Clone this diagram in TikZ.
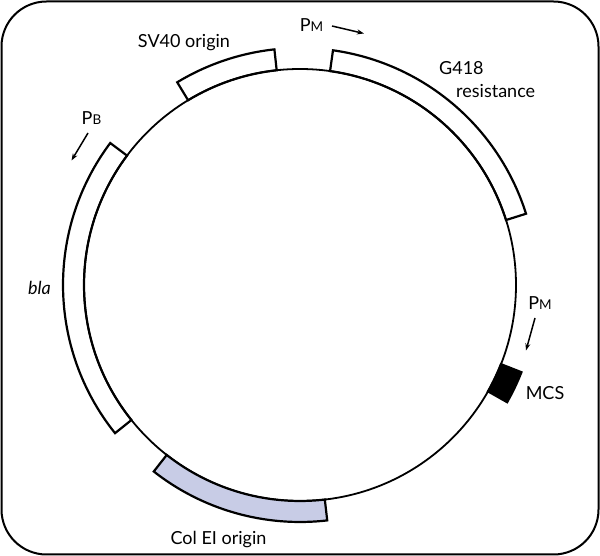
\documentclass[tikz,border=0pt]{standalone}
\usepackage{fontspec}
\setmainfont{Lato}
\usetikzlibrary{arrows.meta}
\definecolor{lav}{RGB}{200,204,230}
\newcommand{\promlbl}[1]{P{\fontsize{13.5}{14}\selectfont #1}}
\begin{document}
\begin{tikzpicture}[x=1pt,y=1pt,
  frame/.style={line width=2pt,rounded corners=45pt},
  plasmid/.style={line width=1.8pt},
  feat/.style={line width=2.2pt,line join=miter},
  lbl/.style={font=\fontsize{18}{21}\selectfont,inner sep=0pt,anchor=base},
  parr/.style={line width=1.5pt,-{Stealth[length=7pt,width=5pt]}}]
\useasboundingbox (0,0) rectangle (600,556);
\draw[frame] (1.5,1.5) rectangle (598.5,554.5);
\begin{scope}[shift={(300,271)}]
  \draw[plasmid] (0,0) circle (216);
  % SV40 origin
  \draw[feat] (96.2:216) arc (96.2:121.2:216) -- (121.2:237) arc (121.2:96.2:237) -- cycle;
  % G418 resistance
  \draw[feat] (17.5:216) arc (17.5:82:216) -- (82:237) arc (82:17.5:237) -- cycle;
  % bla
  \draw[feat] (143.2:216) arc (143.2:218.7:216) -- (218.7:237) arc (218.7:143.2:237) -- cycle;
  % Col EI origin
  \draw[feat,fill=lav] (231.9:216) arc (231.9:276.6:216) -- (276.6:237) arc (276.6:231.9:237) -- cycle;
  % MCS
  \draw[feat,fill=black] (-29.5:216) arc (-29.5:-21.5:216) -- (-21.5:238) arc (-21.5:-29.5:238) -- cycle;
\end{scope}
% labels
\node[lbl] (sv40) at (184,508) {SV40 origin};
\node[lbl] (pmtop) at (311.5,524) {\promlbl{M}};
\node[lbl,anchor=base west] (g418) at (439,481) {G418};
\node[lbl,anchor=base west] (res) at (456,458) {resistance};
\node[lbl] (pb) at (91.5,431) {\promlbl{B}};
\node[lbl] (bla) at (39.5,261) {\itshape bla};
\node[lbl] (pmright) at (540,246) {\promlbl{M}};
\node[lbl] (mcs) at (545,156) {MCS};
\node[lbl] (col) at (218.5,11) {Col EI origin};
% promoter arrows
\coordinate (a1s) at (332,530); \coordinate (a1e) at (364,522.5);
\coordinate (a2s) at (88,423);  \coordinate (a2e) at (71.5,395.5);
\coordinate (a3s) at (535,238); \coordinate (a3e) at (526,205.5);
\draw[parr] (a1s) -- (a1e);
\draw[parr] (a2s) -- (a2e);
\draw[parr] (a3s) -- (a3e);
\end{tikzpicture}
\end{document}
